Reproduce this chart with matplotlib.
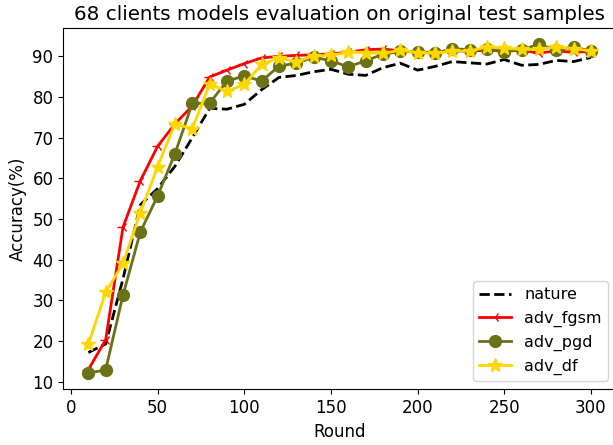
import matplotlib
matplotlib.use("Agg")
import matplotlib.pyplot as plt

rounds = list(range(10, 310, 10))

nature = [17.2, 19.3, 35.3, 53.5, 57.5, 63.0, 70.0, 77.2, 77.0, 78.2,
          81.8, 84.8, 85.3, 86.2, 86.8, 85.6, 85.3, 87.2, 88.3, 86.6,
          87.5, 88.7, 88.4, 88.1, 89.2, 87.8, 88.0, 89.0, 88.7, 89.7]
adv_fgsm = [13.0, 20.3, 48.0, 59.4, 67.9, 73.4, 77.8, 84.9, 86.6, 88.2,
            89.6, 90.0, 90.2, 90.4, 90.6, 91.0, 91.6, 91.8, 91.3, 91.0,
            91.0, 91.3, 91.3, 91.5, 91.3, 91.5, 90.8, 91.3, 91.0, 91.2]
adv_pgd = [12.2, 12.9, 31.3, 46.8, 55.7, 66.1, 78.4, 78.5, 83.9, 85.2,
           83.9, 87.6, 88.3, 89.8, 88.9, 87.4, 88.9, 90.5, 91.2, 91.1,
           90.7, 91.9, 91.6, 91.7, 91.1, 91.6, 92.9, 91.6, 92.3, 91.3]
adv_df = [19.2, 32.0, 39.1, 51.6, 62.9, 73.4, 72.2, 83.2, 81.4, 83.1,
          88.0, 89.6, 88.7, 90.1, 90.2, 91.0, 90.9, 90.7, 91.5, 90.9,
          90.7, 91.3, 91.3, 92.3, 92.0, 91.7, 91.7, 92.3, 91.9, 91.3]

plt.rcParams["font.size"] = 12

fig = plt.figure(figsize=(6.13, 4.45), dpi=100)
ax = fig.add_axes([0.1031, 0.1252, 0.9018, 0.8117])

ax.plot(rounds, nature, "k--", lw=2, label="nature")
ax.plot(rounds, adv_fgsm, color="red", marker="3", ms=8, lw=2, label="adv_fgsm")
ax.plot(rounds, adv_pgd, color="#6b7116", marker="o", ms=8.5, lw=2, label="adv_pgd")
ax.plot(rounds, adv_df, color="gold", marker="*", ms=10, lw=2, label="adv_df")

ax.set_xticks([0, 50, 100, 150, 200, 250, 300])
ax.set_yticks(range(10, 100, 10))
ax.set_xlabel("Round")
ax.set_ylabel("Accuracy(%)")
ax.set_title("68 clients models evaluation on original test samples", fontsize=14.3)
ax.legend(loc="lower right", fontsize=11.5)

fig.savefig("out.png", dpi=100)
